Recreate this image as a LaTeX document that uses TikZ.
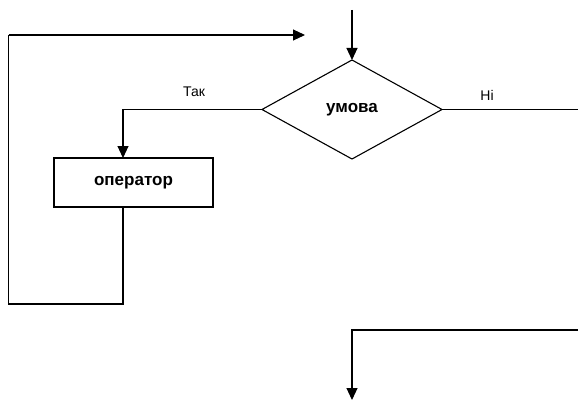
\documentclass[tikz,border=0pt]{standalone}
\usepackage{fontspec}
\setmainfont{Liberation Sans}
\usetikzlibrary{arrows.meta,shapes.geometric,positioning}

\begin{document}
\begin{tikzpicture}[x=1pt,y=-1pt]
			\tikzstyle{every node}=[font=\fontsize{14}{16}\selectfont]
			\tikzset{
				line/.style={line width=1.1pt},
				arr/.style={line width=1.1pt, -{Triangle[length=12pt,width=11pt]}},
				cond/.style={draw, line width=1.1pt, diamond, aspect=1.8, minimum width=180pt, minimum height=99pt, inner sep=0pt, outer sep=0pt, font=\fontsize{17}{19}\selectfont\bfseries},
				block/.style={draw, line width=1.1pt, rectangle, minimum width=159pt, minimum height=49pt, inner sep=0pt, outer sep=0pt, font=\fontsize{17}{19}\selectfont\bfseries}
			}
			\useasboundingbox (0,0) rectangle (578,401);
			\node [cond] (umova) at (352,109.5) {умова};
			\node [block] (oper) at (133.5,182.5) {оператор};
			\node (tak) at (194,92) {Так};
			\node (ni) at (487,95) {Ні};
			\coordinate (start) at (352,10);
			\coordinate (yesx) at (123,0);
			\coordinate (loopa) at (8.5,304);
			\coordinate (loopb) at (8.5,35);
			\coordinate (back) at (305,35);
			\coordinate (noend) at (578,0);
			\coordinate (join) at (578,330);
			\coordinate (exit) at (352,400);
			\draw [arr] (start) -- (umova.north);
			\draw [arr] (umova.west) -| (yesx |- oper.north);
			\draw [line] (oper.south -| yesx) -- (yesx |- loopa) -- (loopa) -- (loopb);
			\draw [arr] (loopb) -- (back);
			\draw [line] (umova.east) -- (umova.east -| noend);
			\draw [arr] (join) -- (exit |- join) -- (exit);
		\end{tikzpicture}
\end{document}
